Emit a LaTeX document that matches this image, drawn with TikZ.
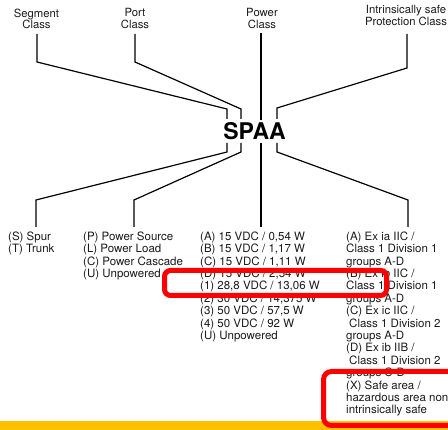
\documentclass[tikz,border=0pt]{standalone}
\usepackage{fontspec}
\setmainfont{TeX Gyre Heros}
\definecolor{ink}{HTML}{1A1A1A}
\definecolor{hired}{HTML}{FF0000}
\definecolor{barY}{HTML}{FFC000}
\begin{document}
\begin{tikzpicture}[x=1pt,y=-1pt,
  head/.style={inner sep=0pt, anchor=north, text=ink, align=center,
    font=\fontsize{11.3}{11.8}\selectfont},
  list/.style={inner sep=0pt, anchor=north west, text=ink, align=left,
    font=\fontsize{11.5}{12.4}\selectfont},
  wire/.style={draw=black, line width=1.2pt},
  hilite/.style={draw=hired, line width=5pt, rounded corners=6pt}]
\useasboundingbox (0,0) rectangle (448,430);

% bottom bar
\fill[barY] (0,421) rectangle (448,431);

% category headings
\node[head] (seg)  at (36.5,8.5) {Segment\\Class};
\node[head] (port) at (135,8)    {Port\\Class};
\node[head] (pow)  at (262,8)    {Power\\Class};
\node[head] (prot) at (406,5)    {Intrinsically safe\\Protection Class};

% code word
\node[inner sep=0pt, text=black, font=\fontsize{23}{23}\selectfont\bfseries]
  (spaa) at (254.5,131.5) {SPAA};

% value lists
\node[list] (segL) at (8,231.8) {(S) Spur\\(T) Trunk};
\node[list] (portL) at (83,231.8) {(P) Power Source\\(L) Power Load\\(C) Power Cascade\\(U) Unpowered};
\node[list] (powL) at (200,231.5) {(A) 15 VDC / 0,54 W\\(B) 15 VDC / 1,17 W\\(C) 15 VDC / 1,11 W\\(D) 15 VDC / 2,54 W\\(1) 28,8 VDC / 13,06 W\\(2) 30 VDC / 14,375 W\\(3) 50 VDC / 57,5 W\\(4) 50 VDC / 92 W\\(U) Unpowered};
\node[list] (protL) at (346,231.5) {(A) Ex ia IIC /\\Class 1 Division 1\\groups A-D\\(B) Ex ib IIC /\\Class 1 Division 1\\groups A-D\\(C) Ex ic IIC /\\\hspace*{3pt}Class 1 Division 2\\groups A-D\\(D) Ex ib IIB /\\\hspace*{3pt}Class 1 Division 2\\groups C-D\\(X) Safe area /\\hazardous area non\\intrinsically safe};

% connector bend points
\coordinate (segA) at (37,34);   \coordinate (segB) at (37,62);
\coordinate (segC) at (227,109); \coordinate (segD) at (227,119);
\coordinate (portA) at (135,34); \coordinate (portB) at (135,62);
\coordinate (portC) at (241,109);\coordinate (portD) at (241,119);
\coordinate (powA) at (261,33);  \coordinate (powD) at (261,120);
\coordinate (protA) at (407,34); \coordinate (protB) at (407,68);
\coordinate (protC) at (277,108);\coordinate (protD) at (277,119);

\coordinate (segE) at (227,143); \coordinate (segF) at (227,152);
\coordinate (segG) at (36,200);  \coordinate (segH) at (36,227);
\coordinate (portE) at (241,143);\coordinate (portF) at (241,152);
\coordinate (portG) at (134,200);\coordinate (portH) at (134,227);
\coordinate (powE) at (261,143); \coordinate (powH) at (261,227);
\coordinate (protE) at (277,143);\coordinate (protF) at (277,152);
\coordinate (protG) at (408,200);\coordinate (protH) at (408,227);

% headings to code word
\draw[wire] (segA) -- (segB) -- (segC) -- (segD);
\draw[wire] (portA) -- (portB) -- (portC) -- (portD);
\draw[wire] (powA) -- (powD);
\draw[wire] (protA) -- (protB) -- (protC) -- (protD);

% code word to lists
\draw[wire] (segE) -- (segF) -- (segG) -- (segH);
\draw[wire] (portE) -- (portF) -- (portG) -- (portH);
\draw[wire] (powE) -- (powH);
\draw[wire] (protE) -- (protF) -- (protG) -- (protH);

% highlight frames
\draw[hilite] (164.5,270.5) rectangle (386.5,295.5);
\draw[hilite, rounded corners=8pt] (323.5,371.5) rectangle (470,425.5);
\end{tikzpicture}
\end{document}
